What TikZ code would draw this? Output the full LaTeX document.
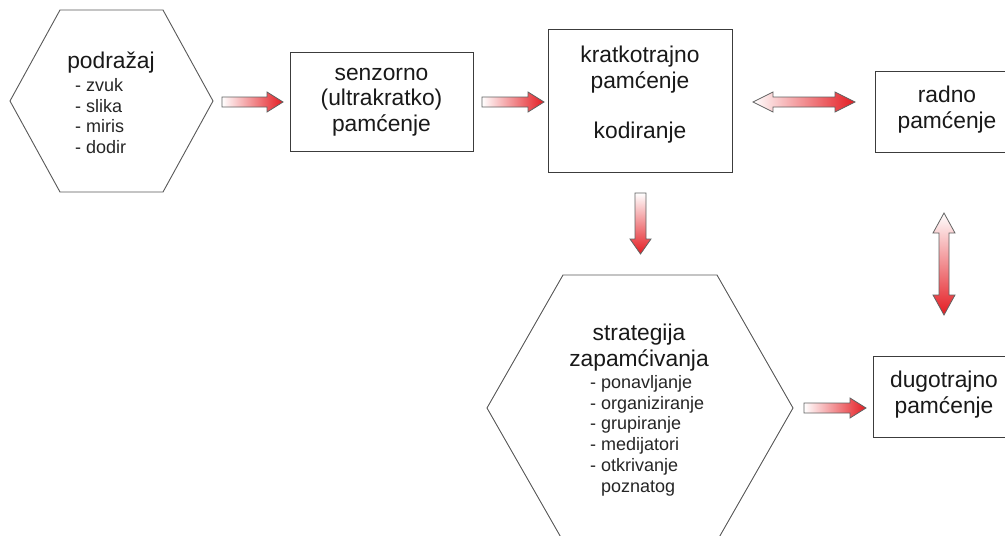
\documentclass[tikz,border=0pt]{standalone}
\usepackage{fontspec}
\setmainfont{Liberation Sans}
\definecolor{arrred}{RGB}{228,28,34}
\definecolor{edge}{RGB}{60,60,60}
\tikzset{
  box/.style={draw=edge, line width=0.9pt},
  hex/.style={draw=edge!85, line width=0.9pt, line join=miter},
  ttl/.style={font=\fontsize{22.8}{25.5}\selectfont, align=center, inner sep=0pt, text=black!90},
  lst/.style={font=\fontsize{18}{20.8}\selectfont, align=left, inner sep=0pt, text=black!85},
  barrow/.style={draw=edge!80, line width=0.8pt, line join=miter},
}
\newcommand\harr[3]{% tail x, tip x, centre y
  \shade[barrow, left color=white, right color=arrred]
    (#1,#3-5) -- (#2-16,#3-5) -- (#2-16,#3-10) -- (#2,#3) -- (#2-16,#3+10)
    -- (#2-16,#3+5) -- (#1,#3+5) -- cycle;}
\begin{document}
\begin{tikzpicture}[x=1pt,y=-1pt]
\useasboundingbox (0,0) rectangle (1005,536);
\fill[white] (0,0) rectangle (1005,536);
\clip (0,0) rectangle (1005,536);

% hexagon: podrazaj
\draw[hex] (60,10) -- (163,10) -- (213,101) -- (163,192) -- (60,192) -- (10,101) -- cycle;
\node[ttl, anchor=base] (podt) at (111,68) {podražaj};
\node[lst, anchor=north west] (podl) at (75,78) {- zvuk\\- slika\\- miris\\- dodir};

% boxes
\draw[box] (290,52) rectangle (473,151);
\node[ttl] (senz) at (381.5,102) {senzorno\\(ultrakratko)\\pamćenje};

\draw[box] (548,29) rectangle (732,172);
\node[ttl, anchor=north] (krat) at (640,46) {kratkotrajno\\pamćenje\\[25pt]kodiranje};

\draw[box] (875,71) rectangle (1015,152);
\node[ttl, anchor=north] (radno) at (947,86) {radno\\pamćenje};

\draw[box] (873,356) rectangle (1015,437);
\node[ttl, anchor=north] (dugo) at (944,371) {dugotrajno\\pamćenje};

% hexagon: strategija
\draw[hex] (563,275) -- (717,275) -- (793,408) -- (717,541) -- (563,541) -- (487,408) -- cycle;
\node[ttl, anchor=north] (strt) at (639,324) {strategija\\zapamćivanja};
\node[lst, anchor=north west] (strl) at (590,375) {- ponavljanje\\- organiziranje\\- grupiranje\\- medijatori\\- otkrivanje\\\hphantom{- }poznatog};

% block arrows
\harr{222}{283}{102}
\harr{482}{544}{102}
\harr{804}{866}{408}

\shade[barrow, left color=white, right color=arrred]
  (753,102) -- (773,92) -- (773,97) -- (835,97) -- (835,92) -- (855,102)
  -- (835,112) -- (835,107) -- (773,107) -- (773,112) -- cycle;

\shade[barrow, top color=white, bottom color=arrred]
  (635,193) -- (646,193) -- (646,239) -- (651,239) -- (640.5,254)
  -- (630,239) -- (635,239) -- cycle;

\shade[barrow, top color=white, bottom color=arrred]
  (944,213) -- (955,233) -- (949,233) -- (949,295) -- (955,295) -- (944,315)
  -- (933,295) -- (939,295) -- (939,233) -- (933,233) -- cycle;
\end{tikzpicture}
\end{document}
